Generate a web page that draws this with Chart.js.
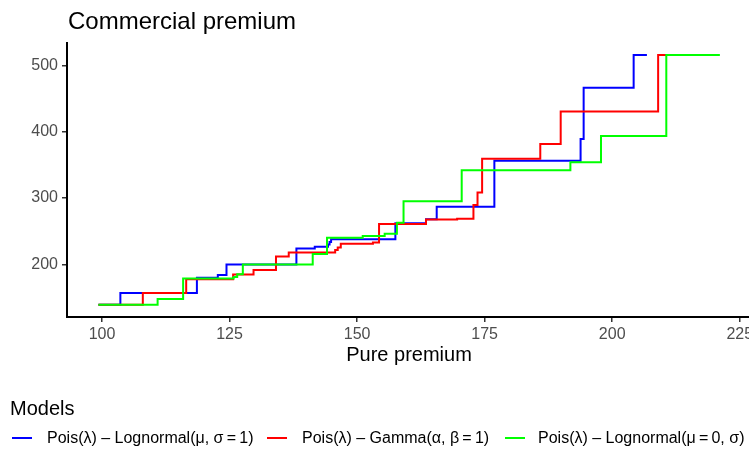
<!DOCTYPE html>
<html><head><meta charset="utf-8">
<script src="https://cdn.jsdelivr.net/npm/chart.js@4/dist/chart.umd.min.js"></script>
<style>
html,body{margin:0;padding:0;background:#fff;overflow:hidden;}
#wrap{position:relative;width:749px;height:449px;overflow:hidden;font-family:"Liberation Sans",Arial,sans-serif;color:#000;}
canvas{position:absolute;left:0;top:0;}
.t{position:absolute;white-space:nowrap;line-height:1;}
.key{position:absolute;height:2px;width:20px;}
</style></head><body>
<div id="wrap">
<canvas id="c" width="760" height="449"></canvas>
<div class="t" style="left:68px;top:9px;font-size:24px;">Commercial premium</div>
<div class="t" style="left:10px;top:398px;font-size:20px;">Models</div>
<div id="legend"></div>
</div>
<script>
// ---- data ----
const seriesNames = [
  "Pois(\u03BB) \u2013 Lognormal(\u03BC, \u03C3\u2009=\u20091)",
  "Pois(\u03BB) \u2013 Gamma(\u03B1, \u03B2\u2009=\u20091)",
  "Pois(\u03BB) \u2013 Lognormal(\u03BC\u2009=\u20090, \u03C3)"
];
const seriesColors = ["#0000FF", "#FF0000", "#00FF00"];

const blueX = [99.3, 103.6, 118.6, 122.7, 124.4, 138.1, 141.7, 144.3, 144.6, 144.9, 157.5, 163.5, 165.6, 176.9, 193.8, 194.4, 204.2, 206.8];
const blueY = [139, 157, 180, 184, 200, 224, 226.5, 230, 233.6, 238, 262, 268, 287, 356, 389, 466, 515.5, 515.5];

const redX = [99.3, 108.0, 116.5, 125.7, 129.7, 134.1, 136.6, 145.7, 146.2, 146.8, 153.1, 154.3, 163.5, 169.6, 172.8, 173.6, 174.5, 185.9, 189.9, 209.0, 215.6];
const redY = [139, 157, 177.4, 184.9, 191.4, 212, 218, 221.5, 225.6, 231, 233.1, 260.7, 267.7, 268.7, 289.3, 308.4, 359, 381.5, 430.3, 515.5, 515.5];

const greenX = [99.3, 110.9, 115.9, 125.8, 126.5, 127.6, 141.3, 144.1, 151.1, 155.4, 157.8, 159.1, 170.5, 191.8, 197.8, 210.6, 221.1];
const greenY = [139, 147.8, 178.9, 181, 185, 200, 215.5, 240.3, 242.6, 246, 262.6, 295, 342, 354, 393.6, 515.5, 515.5];

const xTicks = [100, 125, 150, 175, 200, 225];
const yTicks = [200, 300, 400, 500];
const xRange = [93.14, 227.2];
const yRange = [120.7, 533.6];
const xTitle = "Pure premium";

// ---- legend (HTML) ----
const legendKeyLeft = [12, 267, 505];
const legendTextLeft = [47, 302, 538];
const leg = document.getElementById('legend');
seriesNames.forEach((n, i) => {
  const k = document.createElement('div');
  k.className = 'key';
  k.style.left = legendKeyLeft[i] + 'px';
  k.style.top = '437px';
  k.style.background = seriesColors[i];
  leg.appendChild(k);
  const t = document.createElement('div');
  t.className = 't';
  t.style.left = legendTextLeft[i] + 'px';
  t.style.top = '430px';
  t.style.fontSize = '16px';
  t.textContent = n;
  leg.appendChild(t);
});

// ---- chart ----
const FAM = '"Liberation Sans", Arial, sans-serif';
const mk = (xs, ys) => xs.map((x, i) => ({x: x, y: ys[i]}));
const datasets = [
  {label: seriesNames[0], data: mk(blueX, blueY), borderColor: seriesColors[0], order: 2},
  {label: seriesNames[1], data: mk(redX, redY), borderColor: seriesColors[1], order: 1},
  {label: seriesNames[2], data: mk(greenX, greenY), borderColor: seriesColors[2], order: 0}
].map(d => Object.assign(d, {stepped: true, borderWidth: 2, pointRadius: 0, fill: false, tension: 0}));

new Chart(document.getElementById('c'), {
  type: 'line',
  data: {datasets: datasets},
  options: {
    responsive: false,
    animation: false,
    devicePixelRatio: 1,
    layout: {padding: {left: 0, right: 9, top: 43, bottom: 82}},
    plugins: {legend: {display: false}, tooltip: {enabled: false}, title: {display: false}},
    scales: {
      x: {
        type: 'linear', min: xRange[0], max: xRange[1],
        afterBuildTicks: s => { s.ticks = xTicks.map(v => ({value: v})); },
        afterFit: s => { s.height = 50; },
        grid: {display: true, drawOnChartArea: false, drawTicks: true, tickLength: 5, color: '#333333', lineWidth: 1.5},
        border: {display: true, color: '#000000', width: 2},
        ticks: {color: '#4D4D4D', font: {size: 16, family: FAM}, padding: 3, maxRotation: 0, autoSkip: false},
        title: {display: true, text: xTitle, color: '#000000', font: {size: 20, family: FAM, lineHeight: 1.2}, padding: {top: 0, bottom: 0}}
      },
      y: {
        type: 'linear', min: yRange[0], max: yRange[1],
        afterBuildTicks: s => { s.ticks = yTicks.map(v => ({value: v})); },
        afterFit: s => { s.width = 67; },
        grid: {display: true, drawOnChartArea: false, drawTicks: true, tickLength: 5, color: '#333333', lineWidth: 1.5},
        border: {display: true, color: '#000000', width: 2},
        ticks: {color: '#4D4D4D', font: {size: 16, family: FAM}, padding: 4, autoSkip: false}
      }
    }
  }
});
</script>
</body></html>
